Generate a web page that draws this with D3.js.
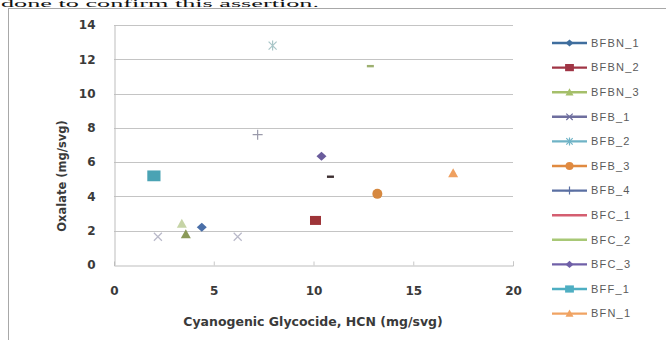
<!DOCTYPE html>
<html>
<head>
<meta charset="utf-8">
<script src="https://cdn.jsdelivr.net/npm/d3@7"></script>
<style>
  html, body { margin: 0; padding: 0; background: #fff; }
  svg { display: block; }
</style>
</head>
<body>
<svg id="chart" width="666" height="340"></svg>
<script>
// ---- data ----
const seriesNames = ["BFBN_1","BFBN_2","BFBN_3","BFB_1","BFB_2","BFB_3","BFB_4","BFC_1","BFC_2","BFC_3","BFF_1","BFN_1"];
const seriesX = [[4.4],[10.1],[3.4,3.6],[2.2,6.2],[7.95],[13.2],[7.2],[10.85],[12.85],[10.4],[2.0],[17.0]];
const seriesY = [[2.2],[2.6],[2.4,1.8],[1.65,1.65],[12.8],[4.15],[7.6],[5.15],[11.6],[6.35],[5.2],[5.35]];
const xTicks = [0,5,10,15,20];
const yTicks = [0,2,4,6,8,10,12,14];
const xTitle = "Cyanogenic Glycocide, HCN (mg/svg)";
const yTitle = "Oxalate (mg/svg)";
const headerText = "done to confirm this assertion.";

// ---- styles ----
const markerShapes = ["diamond","square","triangle","x","asterisk","circle","plus","dash","dash","diamond","square","triangle"];
const markerColors = ["#4A6FA8","#9E3438","#8A9958","#B9B9C9","#A9C6C8","#D6883F","#9A9AAA","#3C2E30","#9DB070","#6A5C9C","#4AA3B4","#EFA060"];
const legendColors = ["#3F6E9E","#A03545","#A5BF6A","#6E6E9E","#6FB3C6","#E08A40","#5A6FA2","#D45E70","#A8C876","#7060A8","#4EAEC2","#F0A363"];

const svg = d3.select("#chart");
const W = 666, H = 340;

// header text (remnant of surrounding document)
svg.append("text")
  .attr("x", 1).attr("y", 7)
  .attr("font-family", "'Liberation Serif', 'DejaVu Serif', serif")
  .attr("font-size", 9.5)
  .attr("textLength", 318)
  .attr("lengthAdjust", "spacingAndGlyphs")
  .attr("fill", "#111")
  .text(headerText);

// chart frame
svg.append("rect")
  .attr("x", 8.5).attr("y", 8.5)
  .attr("width", W + 10).attr("height", H + 10)
  .attr("fill", "none")
  .attr("stroke", "#A8A8A8");

const x = d3.scaleLinear().domain([0, 20]).range([114, 513]);
const y = d3.scaleLinear().domain([0, 14]).range([265, 25]);

// gridlines
svg.append("g").selectAll("line")
  .data(yTicks.filter(d => d > 0))
  .join("line")
  .attr("x1", x(0)).attr("x2", x(20))
  .attr("y1", d => Math.round(y(d)) + 0.5).attr("y2", d => Math.round(y(d)) + 0.5)
  .attr("stroke", "#C4C4C4");

// axes
const yAxis = d3.axisLeft(y).tickValues(yTicks).tickSize(0).tickPadding(19).tickFormat(d3.format("d"));
const xAxis = d3.axisBottom(x).tickValues(xTicks).tickSize(-4).tickPadding(20).tickFormat(d3.format("d"));

const gy = svg.append("g").attr("transform", `translate(${x(0) + 0.5},0)`).call(yAxis);
const gx = svg.append("g").attr("transform", `translate(0,${Math.round(y(0)) + 0.5})`).call(xAxis);

[gx, gy].forEach(g => {
  g.select(".domain").attr("stroke", "#BDBDBD");
  g.selectAll(".tick line").attr("stroke", "#C8C8C8");
  g.selectAll(".tick text")
    .attr("font-family", "'DejaVu Sans', sans-serif")
    .attr("font-weight", "bold")
    .attr("font-size", 12)
    .attr("fill", "#3A3A3A");
});
gx.selectAll(".tick text").attr("dy", "0.35em").attr("y", 25);
gx.select(".tick line").attr("stroke", "none");

// axis titles
svg.append("text")
  .attr("x", 313).attr("y", 326)
  .attr("text-anchor", "middle")
  .attr("font-family", "'DejaVu Sans', sans-serif")
  .attr("font-weight", "bold")
  .attr("font-size", 12.5)
  .attr("fill", "#3A3A3A")
  .text(xTitle);

svg.append("text")
  .attr("transform", "translate(66,176) rotate(-90)")
  .attr("text-anchor", "middle")
  .attr("font-family", "'DejaVu Sans', sans-serif")
  .attr("font-weight", "bold")
  .attr("font-size", 11.5)
  .attr("fill", "#3A3A3A")
  .text(yTitle);

// marker drawing
function drawMarker(g, shape, cx, cy, color, scale) {
  const s = scale || 1;
  switch (shape) {
    case "diamond":
      g.append("path").attr("d", `M${cx},${cy - 4.5 * s}L${cx + 5 * s},${cy}L${cx},${cy + 4.5 * s}L${cx - 5 * s},${cy}Z`).attr("fill", color);
      break;
    case "square":
      g.append("rect").attr("x", cx - 5.5 * s).attr("y", cy - 4.5 * s).attr("width", 11 * s).attr("height", 9 * s).attr("fill", color);
      break;
    case "triangle":
      g.append("path").attr("d", `M${cx},${cy - 5 * s}L${cx + 5 * s},${cy + 4 * s}L${cx - 5 * s},${cy + 4 * s}Z`).attr("fill", color);
      break;
    case "circle":
      g.append("circle").attr("cx", cx).attr("cy", cy).attr("r", 5 * s).attr("fill", color);
      break;
    case "x":
      g.append("path").attr("d", `M${cx - 4 * s},${cy - 4 * s}L${cx + 4 * s},${cy + 4 * s}M${cx + 4 * s},${cy - 4 * s}L${cx - 4 * s},${cy + 4 * s}`).attr("stroke", color).attr("stroke-width", 1.2);
      break;
    case "asterisk":
      g.append("path").attr("d", `M${cx - 4 * s},${cy - 4 * s}L${cx + 4 * s},${cy + 4 * s}M${cx + 4 * s},${cy - 4 * s}L${cx - 4 * s},${cy + 4 * s}M${cx},${cy - 5 * s}L${cx},${cy + 5 * s}`).attr("stroke", color).attr("stroke-width", 1.2);
      break;
    case "plus":
      g.append("path").attr("d", `M${cx - 5 * s},${cy}L${cx + 5 * s},${cy}M${cx},${cy - 5 * s}L${cx},${cy + 5 * s}`).attr("stroke", color).attr("stroke-width", 1.2);
      break;
    case "dash":
      g.append("rect").attr("x", cx - 3.5 * s).attr("y", cy - 1.2).attr("width", 7 * s).attr("height", 2.4).attr("fill", color);
      break;
  }
}

// points
const gp = svg.append("g");
seriesNames.forEach((name, i) => {
  seriesX[i].forEach((xv, j) => {
    const sc = (name === "BFF_1") ? 1.2 : 1;
    const col = (name === "BFBN_3" && j === 0) ? "#C6D4A6" : markerColors[i];
    drawMarker(gp, markerShapes[i], x(xv), y(seriesY[i][j]), col, sc);
  });
});

// legend
const lg = svg.append("g");
const legendY0 = 43, legendStep = 24.6;
seriesNames.forEach((name, i) => {
  const ly = legendY0 + i * legendStep;
  lg.append("line")
    .attr("x1", 552).attr("x2", 587)
    .attr("y1", ly).attr("y2", ly)
    .attr("stroke", legendColors[i]).attr("stroke-width", 2.4);
  if (markerShapes[i] !== "dash") {
    drawMarker(lg, markerShapes[i], 569.5, ly, legendColors[i], 0.8);
  }
  lg.append("text")
    .attr("x", 591).attr("y", ly)
    .attr("dy", "0.35em")
    .attr("font-family", "'Liberation Sans', Arial, sans-serif")
    .attr("font-size", 11)
    .attr("letter-spacing", 1.2)
    .attr("fill", "#5A5A5A")
    .text(name);
});
</script>
</body>
</html>
